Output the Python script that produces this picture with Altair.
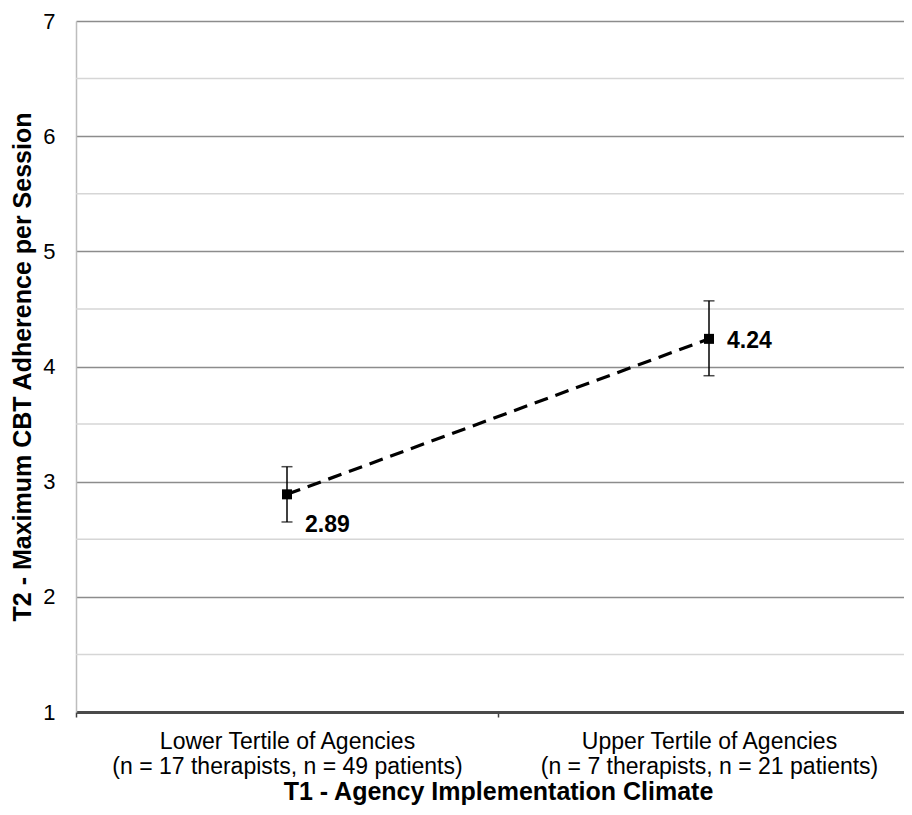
import json
import altair as alt
import pandas as pd

cat_line1 = ["Lower Tertile of Agencies", "Upper Tertile of Agencies"]
cat_line2 = ["(n = 17 therapists, n = 49 patients)", "(n = 7 therapists, n = 21 patients)"]
means = [2.89, 4.24]
lows = [2.65, 3.92]
highs = [3.13, 4.57]
mean_labels = ["2.89", "4.24"]
major_ticks = [1, 2, 3, 4, 5, 6, 7]
minor_grid = [1.5, 2.5, 3.5, 4.5, 5.5, 6.5]

n = len(cat_line1)
xpos = [i + 0.5 for i in range(n)]          # category centres
bounds = [float(i) for i in range(n)]       # category boundaries (tick marks)
df = pd.DataFrame({"x": xpos, "mean": means, "lo": lows, "hi": highs, "lab": mean_labels})
grid_df = pd.DataFrame({"g": minor_grid})

FONT = "Liberation Sans"
W = 828          # visible plot width (page x 76..904)
STEP = 422       # category width; the plot area runs on past the visible edge

expr = "''"
for i in reversed(range(n)):
    expr = f"datum.value == {xpos[i]} ? {json.dumps([cat_line1[i], cat_line2[i]])} : {expr}"

xscale = alt.Scale(domain=[0, W / STEP], nice=False, zero=False)
yscale = alt.Scale(domain=[1, 7], nice=False, zero=False)

x_axis = alt.Axis(
    title="T1 - Agency Implementation Climate",
    titleFont=FONT, titleFontSize=25, titleFontWeight="bold", titleColor="black",
    titleX=STEP, titleY=87, titleBaseline="alphabetic", titleAnchor="middle",
    values=sorted(bounds + xpos), labelExpr=expr, labelFont=FONT, labelFontSize=23,
    labelColor="black", labelLineHeight=25, labelPadding=13, labelAngle=0,
    labelBaseline="top", labelLimit=0, labelFlush=False, labelOverlap=False,
    labelAlign="center",
    ticks=True, tickSize=5, tickColor="#404040", tickWidth=1.5,
    tickOpacity={"condition": {"test": "datum.value % 1 == 0", "value": 1}, "value": 0},
    domainColor="#4a4a4a", domainWidth=3, grid=False,
)
y_axis = alt.Axis(
    title="T2 - Maximum CBT Adherence per Session",
    titleFont=FONT, titleFontSize=25, titleFontWeight="bold", titleColor="black",
    titleX=-54, titleY=345.5, titleAngle=-90, titleBaseline="middle", titleAlign="center",
    values=major_ticks, format="d", labelFont=FONT, labelFontSize=22, labelColor="black",
    labelPadding=21, ticks=False,
    domainColor="#bdbdbd", domainWidth=1.5,
    grid=True, gridColor="#8c8c8c", gridWidth=1.5,
)

base = alt.Chart(df)

axes_layer = base.mark_point(opacity=0).encode(
    x=alt.X("x:Q", scale=xscale, axis=x_axis),
    y=alt.Y("mean:Q", scale=yscale, axis=y_axis),
)

minor = alt.Chart(grid_df).mark_rule(color="#d6d6d6", strokeWidth=1.5).encode(
    y=alt.Y("g:Q", scale=yscale),
    x=alt.value(0), x2=alt.value(W),
)

line = base.mark_line(color="black", strokeWidth=3.2, strokeDash=[14, 8]).encode(
    x=alt.X("x:Q", scale=xscale),
    y=alt.Y("mean:Q", scale=yscale),
)

err = base.mark_rule(color="black", strokeWidth=1.5).encode(
    x=alt.X("x:Q", scale=xscale),
    y=alt.Y("lo:Q", scale=yscale), y2="hi:Q",
)
cap_lo = base.mark_tick(color="black", orient="horizontal", size=11, thickness=1.5).encode(
    x=alt.X("x:Q", scale=xscale),
    y=alt.Y("lo:Q", scale=yscale),
)
cap_hi = base.mark_tick(color="black", orient="horizontal", size=11, thickness=1.5).encode(
    x=alt.X("x:Q", scale=xscale),
    y=alt.Y("hi:Q", scale=yscale),
)

pts = base.mark_square(color="black", size=100, opacity=1, filled=True).encode(
    x=alt.X("x:Q", scale=xscale),
    y=alt.Y("mean:Q", scale=yscale),
)

lab1 = alt.Chart(df.iloc[[0]]).mark_text(
    font=FONT, fontSize=23, fontWeight="bold", color="black",
    align="left", baseline="middle", dx=18, dy=31,
).encode(
    x=alt.X("x:Q", scale=xscale),
    y=alt.Y("mean:Q", scale=yscale),
    text="lab:N",
)
lab2 = alt.Chart(df.iloc[[1]]).mark_text(
    font=FONT, fontSize=23, fontWeight="bold", color="black",
    align="left", baseline="middle", dx=18, dy=2,
).encode(
    x=alt.X("x:Q", scale=xscale),
    y=alt.Y("mean:Q", scale=yscale),
    text="lab:N",
)

chart = alt.layer(axes_layer, minor, line, err, cap_lo, cap_hi, pts, lab1, lab2).properties(
    width=W, height=691,
    autosize=alt.AutoSizeParams(type="none"),
    padding={"left": 68, "top": 13, "right": 0, "bottom": 95},
    background="white",
).configure_view(stroke=None)

chart.save("out.html", embed_options={"renderer": "svg", "actions": False})
